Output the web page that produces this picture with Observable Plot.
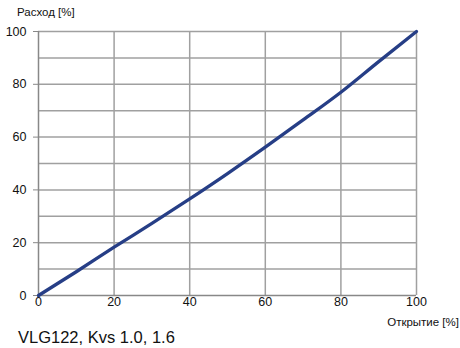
<!DOCTYPE html>
<html><head><meta charset="utf-8">
<script src="https://cdn.jsdelivr.net/npm/d3@7"></script>
<script src="https://cdn.jsdelivr.net/npm/@observablehq/plot@0.6"></script>
<style>
html,body{margin:0;padding:0;background:#fff;}
#wrap{position:relative;width:460px;height:348px;font-family:"Liberation Sans",Arial,sans-serif;color:#111;}
.lbl{position:absolute;white-space:nowrap;}
</style></head>
<body><div id="wrap"></div>
<script>
const opening = [0, 10, 20, 30, 40, 50, 60, 70, 80, 90, 100];
const flow    = [0, 9, 18.3, 27.3, 36.6, 46.2, 56.2, 66.5, 77, 88.6, 100];
const xTicks = [0, 20, 40, 60, 80, 100];
const yTicks = [0, 20, 40, 60, 80, 100];
const yGrid = [10, 20, 30, 40, 50, 60, 70, 80, 90, 100];
const xGrid = [20, 40, 60, 80, 100];
const yTitle = "Расход [%]";
const xTitle = "Открытие [%]";
const caption = "VLG122, Kvs 1.0, 1.6";

const data = opening.map((x, i) => ({x, y: flow[i]}));
const gridColor = "#a0a0a0";

const chart = Plot.plot({
  width: 460, height: 348,
  marginLeft: 38, marginRight: 44, marginTop: 31, marginBottom: 53,
  style: {fontFamily: "Liberation Sans, Arial, sans-serif", fontSize: "12.5px", color: "#111", background: "#fff"},
  x: {domain: [0, 100], label: null},
  y: {domain: [0, 100], label: null},
  marks: [
    Plot.ruleX(xGrid, {stroke: gridColor, strokeWidth: 1.5}),
    Plot.ruleY(yGrid, {stroke: gridColor, strokeWidth: 1.5}),
    Plot.ruleX([0], {stroke: "#888", strokeWidth: 1.5}),
    Plot.ruleY([0], {stroke: "#888", strokeWidth: 1.5}),
    Plot.axisY(yTicks, {tickSize: 5, tickPadding: 7, stroke: "#888", fill: "#111", label: null}),
    Plot.axisX(xTicks, {tickSize: 0, tickPadding: 2, fill: "#111", label: null}),
    Plot.line(data, {x: "x", y: "y", stroke: "#263e86", strokeWidth: 3.3, curve: "monotone-x"})
  ]
});
const wrap = document.getElementById("wrap");
wrap.appendChild(chart);
function addLabel(t, css){const d=document.createElement("div");d.className="lbl";d.textContent=t;Object.assign(d.style,css);wrap.appendChild(d);}
addLabel(yTitle, {left: "17px", top: "6px", fontSize: "11.5px"});
addLabel(xTitle, {right: "1px", top: "316px", fontSize: "11.5px"});
addLabel(caption, {left: "18px", top: "328px", fontSize: "16.5px"});
</script></body></html>
